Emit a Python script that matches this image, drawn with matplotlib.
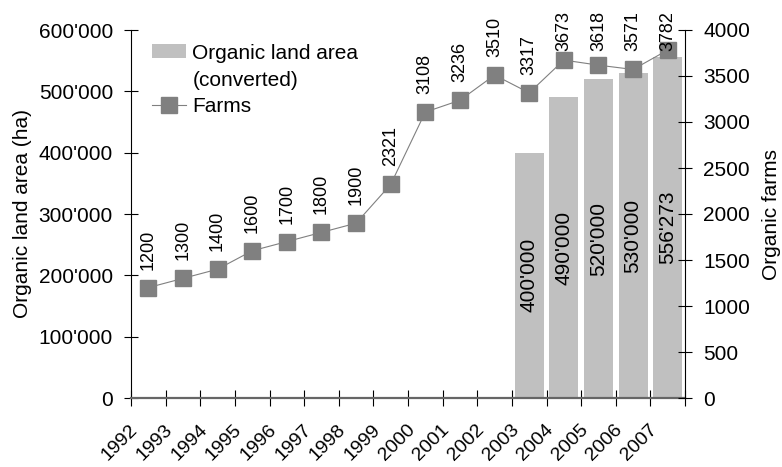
import matplotlib.pyplot as plt
import matplotlib.transforms as mtransforms
import numpy as np
from matplotlib.legend_handler import HandlerPatch
from matplotlib.patches import Rectangle
from matplotlib.ticker import FuncFormatter, MultipleLocator

plt.rcParams["font.family"] = ["Liberation Sans", "DejaVu Sans"]

years = [1992, 1993, 1994, 1995, 1996, 1997, 1998, 1999,
         2000, 2001, 2002, 2003, 2004, 2005, 2006, 2007]
farms = [1200, 1300, 1400, 1600, 1700, 1800, 1900, 2321,
         3108, 3236, 3510, 3317, 3673, 3618, 3571, 3782]
area_years = [2003, 2004, 2005, 2006, 2007]
land_area = [400000, 490000, 520000, 530000, 556273]


def swiss(v, pos=None):
    return f"{v:,.0f}".replace(",", "'")


def top_line_patch(legend, orig_handle, xdescent, ydescent, width, height, fontsize):
    # lift the swatch up to the first line of the two-line label
    return Rectangle((-xdescent, -ydescent + 0.77 * fontsize), width, height)


fig = plt.figure(figsize=(7.82, 4.67), dpi=100)
ax = fig.add_axes([131 / 782, 1 - 398 / 467, 554 / 782, 368 / 467])
ax2 = ax.twinx()

x = np.arange(len(years))
bar_x = [years.index(y) for y in area_years]

bars = ax.bar(bar_x, land_area, width=0.84, color="#c0c0c0", zorder=1)
for bx, v in zip(bar_x, land_area):
    ax.text(bx, v / 2, swiss(v), rotation=90, ha="center", va="center",
            fontsize=15, color="black")

line, = ax2.plot(x, farms, color="#808080", lw=0.8, marker="s",
                 markersize=11, markerfacecolor="#808080",
                 markeredgecolor="#808080")

anns = []
for xi, v in zip(x, farms):
    a = ax2.annotate(str(v), (xi, v), xytext=(0, 13), textcoords="offset points",
                     rotation=90, ha="center", va="bottom", fontsize=13)
    anns.append(a)

# left axis
ax.set_xlim(-0.5, len(years) - 0.5)
ax.set_ylim(0, 600000)
ax.yaxis.set_major_locator(MultipleLocator(100000))
ax.yaxis.set_major_formatter(FuncFormatter(swiss))
ax.tick_params(axis="y", direction="inout", length=9.4, width=0.8,
               pad=8.3, labelsize=15)
ax.set_ylabel("Organic land area (ha)", fontsize=15)
ax.yaxis.set_label_coords(-0.179, 0.5)

# right axis
ax2.set_ylim(0, 4000)
ax2.yaxis.set_major_locator(MultipleLocator(500))
ax2.tick_params(axis="y", direction="inout", length=9.4, width=0.8,
                pad=8.3, labelsize=15)
ax2.set_ylabel("Organic farms", fontsize=15)
ax2.yaxis.set_label_coords(1.139, 0.5)

# category boundaries as ticks, year labels at centers
ax.set_xticks(np.arange(len(years) + 1) - 0.5)
ax.set_xticklabels([])
ax.set_xticks(x, labels=[str(y) for y in years], minor=True)
ax.tick_params(axis="x", which="major", direction="inout", length=11, width=0.8)
ax.tick_params(axis="x", which="minor", length=0, pad=16.5, labelsize=14)
shift = mtransforms.ScaledTranslation(-7 / 100, 0, fig.dpi_scale_trans)
for lab in ax.get_xticklabels(minor=True):
    lab.set_rotation(45)
    lab.set_ha("right")
    lab.set_va("top")
    lab.set_transform(lab.get_transform() + shift)

for s in ["top", "right"]:
    ax.spines[s].set_visible(False)
for s in ["top", "left", "bottom"]:
    ax2.spines[s].set_visible(False)
ax.spines["left"].set_linewidth(0.8)
ax2.spines["right"].set_linewidth(0.8)
ax.spines["bottom"].set_color("#666666")
ax.spines["bottom"].set_linewidth(1.6)

swatch = bars.patches[0]
leg = ax2.legend([swatch, line], ["Organic land area\n(converted)", "Farms"],
                 loc="upper left", bbox_to_anchor=(0.038, 0.963), frameon=False,
                 fontsize=15, handlelength=1.63, handletextpad=0.3,
                 borderpad=0, borderaxespad=0, labelspacing=0.35,
                 handler_map={type(swatch): HandlerPatch(patch_func=top_line_patch)})
for t in leg.get_texts():
    t.set_linespacing(1.55)

# keep farm labels below the top of the figure
fig.canvas.draw()
r = fig.canvas.get_renderer()
top_limit = fig.bbox.height - 11
for a in anns:
    bb = a.get_window_extent(r)
    if bb.y1 > top_limit:
        dy_pts = (bb.y1 - top_limit) * 72 / fig.dpi
        a.xyann = (0, 13 - dy_pts)

fig.savefig("out.png", dpi=100)
